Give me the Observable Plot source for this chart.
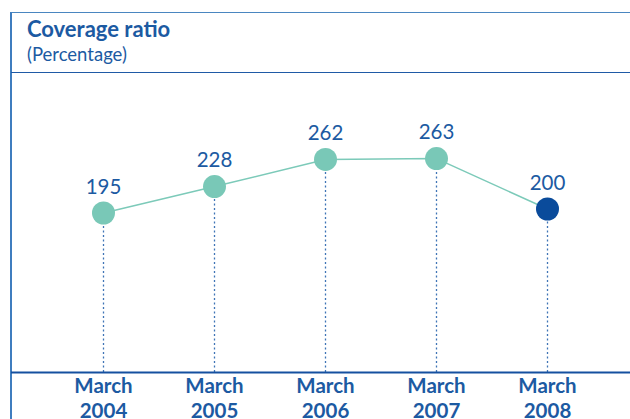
<!DOCTYPE html>
<html>
<head>
<meta charset="utf-8">
<script src="https://cdn.jsdelivr.net/npm/d3@7"></script>
<script src="https://cdn.jsdelivr.net/npm/@observablehq/plot@0.6"></script>
<style>
  html, body { margin: 0; padding: 0; background: #fff; }
  body { width: 630px; height: 419px; overflow: hidden; position: relative; font-family: Lato, "Open Sans", sans-serif; }
  .frame { position: absolute; left: 10px; top: 11.5px; width: 640px; height: 420px; border-left: 2px solid #3f7dbf; border-top: 1.8px solid #4a86c0; }
  .sep { position: absolute; left: 11px; top: 72px; width: 640px; height: 0; border-top: 1.6px solid #1f5aa6; }
  .title { position: absolute; left: 27px; top: 17.5px; font-size: 22px; line-height: 22px; font-weight: bold; color: #1c5aa2; white-space: nowrap; }
  .subtitle { position: absolute; left: 27px; top: 44.6px; font-size: 18.5px; line-height: 18.5px; color: #1c5aa2; white-space: nowrap; }
  #chart { position: absolute; left: 0; top: 73px; }
</style>
</head>
<body>
<div class="frame"></div>
<div class="sep"></div>
<div class="title">Coverage ratio</div>
<div class="subtitle">(Percentage)</div>
<div id="chart"></div>
<script>
const months = ["March", "March", "March", "March", "March"];
const years = ["2004", "2005", "2006", "2007", "2008"];
const values = [195, 228, 262, 263, 200];

const data = years.map((y, i) => ({ key: months[i] + "\n" + y, year: y, value: values[i] }));
const latest = years[years.length - 1];

const blue = "#1c5aa2";
const chart = Plot.plot({
  width: 630,
  height: 346,
  marginLeft: 11,
  marginRight: 0,
  marginTop: 0,
  marginBottom: 47,
  style: { fontFamily: "Lato, 'Open Sans', sans-serif", background: "transparent", overflow: "visible" },
  x: { type: "point", domain: data.map(d => d.key), range: [103, 547], padding: 0, label: null },
  y: { domain: [0, 300], range: [295.5, 55.5], axis: null },
  marks: [
    Plot.ruleX(data, { x: "key", y1: 0, y2: "value", stroke: "#3f74b6", strokeWidth: 1.3, strokeDasharray: "2,2.5", dy: 3.5 }),
    Plot.line(data, { x: "key", y: "value", stroke: "#7ccab9", strokeWidth: 1.5 }),
    Plot.dot(data, { x: "key", y: "value", r: 11.5, fill: d => d.year === latest ? "#0a4b9b" : "#79c8b7", stroke: "none" }),
    Plot.text(data, { x: "key", y: "value", text: d => String(d.value), dy: -26, fontSize: 20.5, fill: blue }),
    Plot.ruleY([0], { stroke: "#1550a0", strokeWidth: 2, dy: 3.5 }),
    Plot.axisX({ tickSize: 0, tickPadding: 3, fontSize: 20.5, fontWeight: "bold", fill: blue, lineHeight: 1.22 })
  ]
});
document.getElementById("chart").append(chart);
</script>
</body>
</html>
